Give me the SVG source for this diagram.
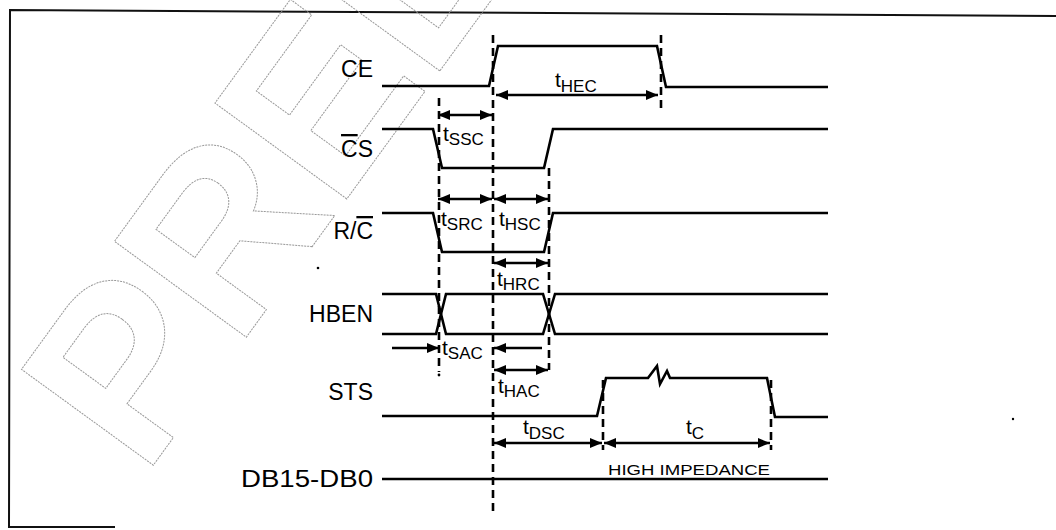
<svg xmlns="http://www.w3.org/2000/svg" width="1056" height="530" viewBox="0 0 1056 530">
<style>
  .frame{fill:none;stroke:#111;stroke-width:2}
  .wm{fill:none;stroke:#9a9a9a;stroke-width:1;stroke-dasharray:2 1;font-family:"Liberation Sans",Arial,sans-serif;font-weight:bold;font-size:237px}
  .sig{fill:none;stroke:#000;stroke-width:2.6;stroke-linejoin:miter}
  .lbl{font-family:"Liberation Sans",Arial,sans-serif;font-size:23px;fill:#000;text-anchor:end}
  .tl{font-family:"Liberation Sans",Arial,sans-serif;font-size:21px;fill:#000}
  .sub{font-size:17px}
  .dash{fill:none;stroke:#000;stroke-width:2.6;stroke-dasharray:8 5}
  .dim{fill:none;stroke:#000;stroke-width:2.4}
  .dbl{marker-start:url(#ah);marker-end:url(#ah)}
  .one{marker-end:url(#ah)}
  .hi{font-family:"Liberation Sans",Arial,sans-serif;font-size:15px;fill:#000}
</style>
<defs>
  <marker id="ah" viewBox="0 0 12 10" refX="12" refY="5" markerWidth="12" markerHeight="10" markerUnits="userSpaceOnUse" orient="auto-start-reverse">
    <path d="M0,0 L12,5 L0,10 Z" fill="#000"/>
  </marker>
</defs>
<rect width="1056" height="530" fill="#fff"/>

<g id="frame">
  <path class="frame" d="M1056,16 L10,10 L9,527 L115,527"/>
</g>

<g id="watermark">
  <text class="wm" transform="translate(144,478) rotate(-54)">PREL</text>
</g>

<g id="signal-CE">
  <text class="lbl" x="373" y="77">CE</text>
  <path class="sig" d="M382,86 H489 L498,46 H657 L666,87 H828"/>
</g>

<g id="signal-CS">
  <text class="lbl" x="373" y="157"><tspan text-decoration="overline">C</tspan>S</text>
  <path class="sig" d="M382,129 H433 L442,168 H544 L553,129 H828"/>
</g>

<g id="signal-RC">
  <text class="lbl" x="373" y="239">R/<tspan text-decoration="overline">C</tspan></text>
  <path class="sig" d="M382,213 H433 L442,252 H544 L553,213 H828"/>
</g>

<g id="signal-HBEN">
  <text class="lbl" x="373" y="322">HBEN</text>
  <path class="sig" d="M382,294 H436 L446,334 H543 L555,294 H828"/>
  <path class="sig" d="M382,334 H436 L446,294 H543 L555,334 H828"/>
</g>

<g id="signal-STS">
  <text class="lbl" x="373" y="400">STS</text>
  <path class="sig" d="M382,416 H597 L606,378 H648 L657,366 L660,384 L667,371 L670,378 H767 L775,417 H828"/>
</g>

<g id="signal-DB">
  <text class="lbl" x="373" y="487" textLength="132" lengthAdjust="spacingAndGlyphs">DB15-DB0</text>
  <path class="sig" d="M382,479 H828"/>
  <text class="hi" x="608" y="475" textLength="162" lengthAdjust="spacingAndGlyphs">HIGH IMPEDANCE</text>
</g>

<g id="connectors">
  <path class="dash" d="M493,35 V515"/>
  <path class="dash" d="M439,98 V372"/>
  <path class="dash" d="M549,168 V370"/>
  <path class="dash" d="M661,35 V108"/>
  <path class="dash" d="M603,380 V450"/>
  <path class="dash" d="M771,380 V450"/>
  <circle cx="439" cy="375" r="1.4" fill="#000"/>

  <path class="dim dbl" d="M496,95 H658"/>
  <path class="dim dbl" d="M438,115 H492"/>
  <path class="dim dbl" d="M438,199 H492"/>
  <path class="dim dbl" d="M494,199 H548"/>
  <path class="dim dbl" d="M494,263 H548"/>
  <path class="dim one" d="M392,348 H439"/>
  <path class="dim one" d="M542,348 H494"/>
  <path class="dim dbl" d="M494,370 H548"/>
  <path class="dim dbl" d="M494,443 H602"/>
  <path class="dim dbl" d="M604,443 H770"/>
</g>

<g id="timing-labels">
  <text class="tl" x="555" y="87">t<tspan class="sub" dy="5">HEC</tspan></text>
  <text class="tl" x="443" y="141">t<tspan class="sub" dy="4">SSC</tspan></text>
  <text class="tl" x="441" y="226">t<tspan class="sub" dy="4">SRC</tspan></text>
  <text class="tl" x="499" y="226">t<tspan class="sub" dy="4">HSC</tspan></text>
  <text class="tl" x="497" y="286">t<tspan class="sub" dy="4">HRC</tspan></text>
  <text class="tl" x="442" y="355">t<tspan class="sub" dy="4">SAC</tspan></text>
  <text class="tl" x="498" y="393">t<tspan class="sub" dy="4">HAC</tspan></text>
  <text class="tl" x="523" y="434">t<tspan class="sub" dy="5">DSC</tspan></text>
  <text class="tl" x="686" y="434">t<tspan class="sub" dy="5">C</tspan></text>
</g>

<g id="marks">
  <circle cx="318" cy="268" r="1.3" fill="#000"/>
  <circle cx="1013" cy="419" r="1.2" fill="#000"/>
</g>
</svg>
